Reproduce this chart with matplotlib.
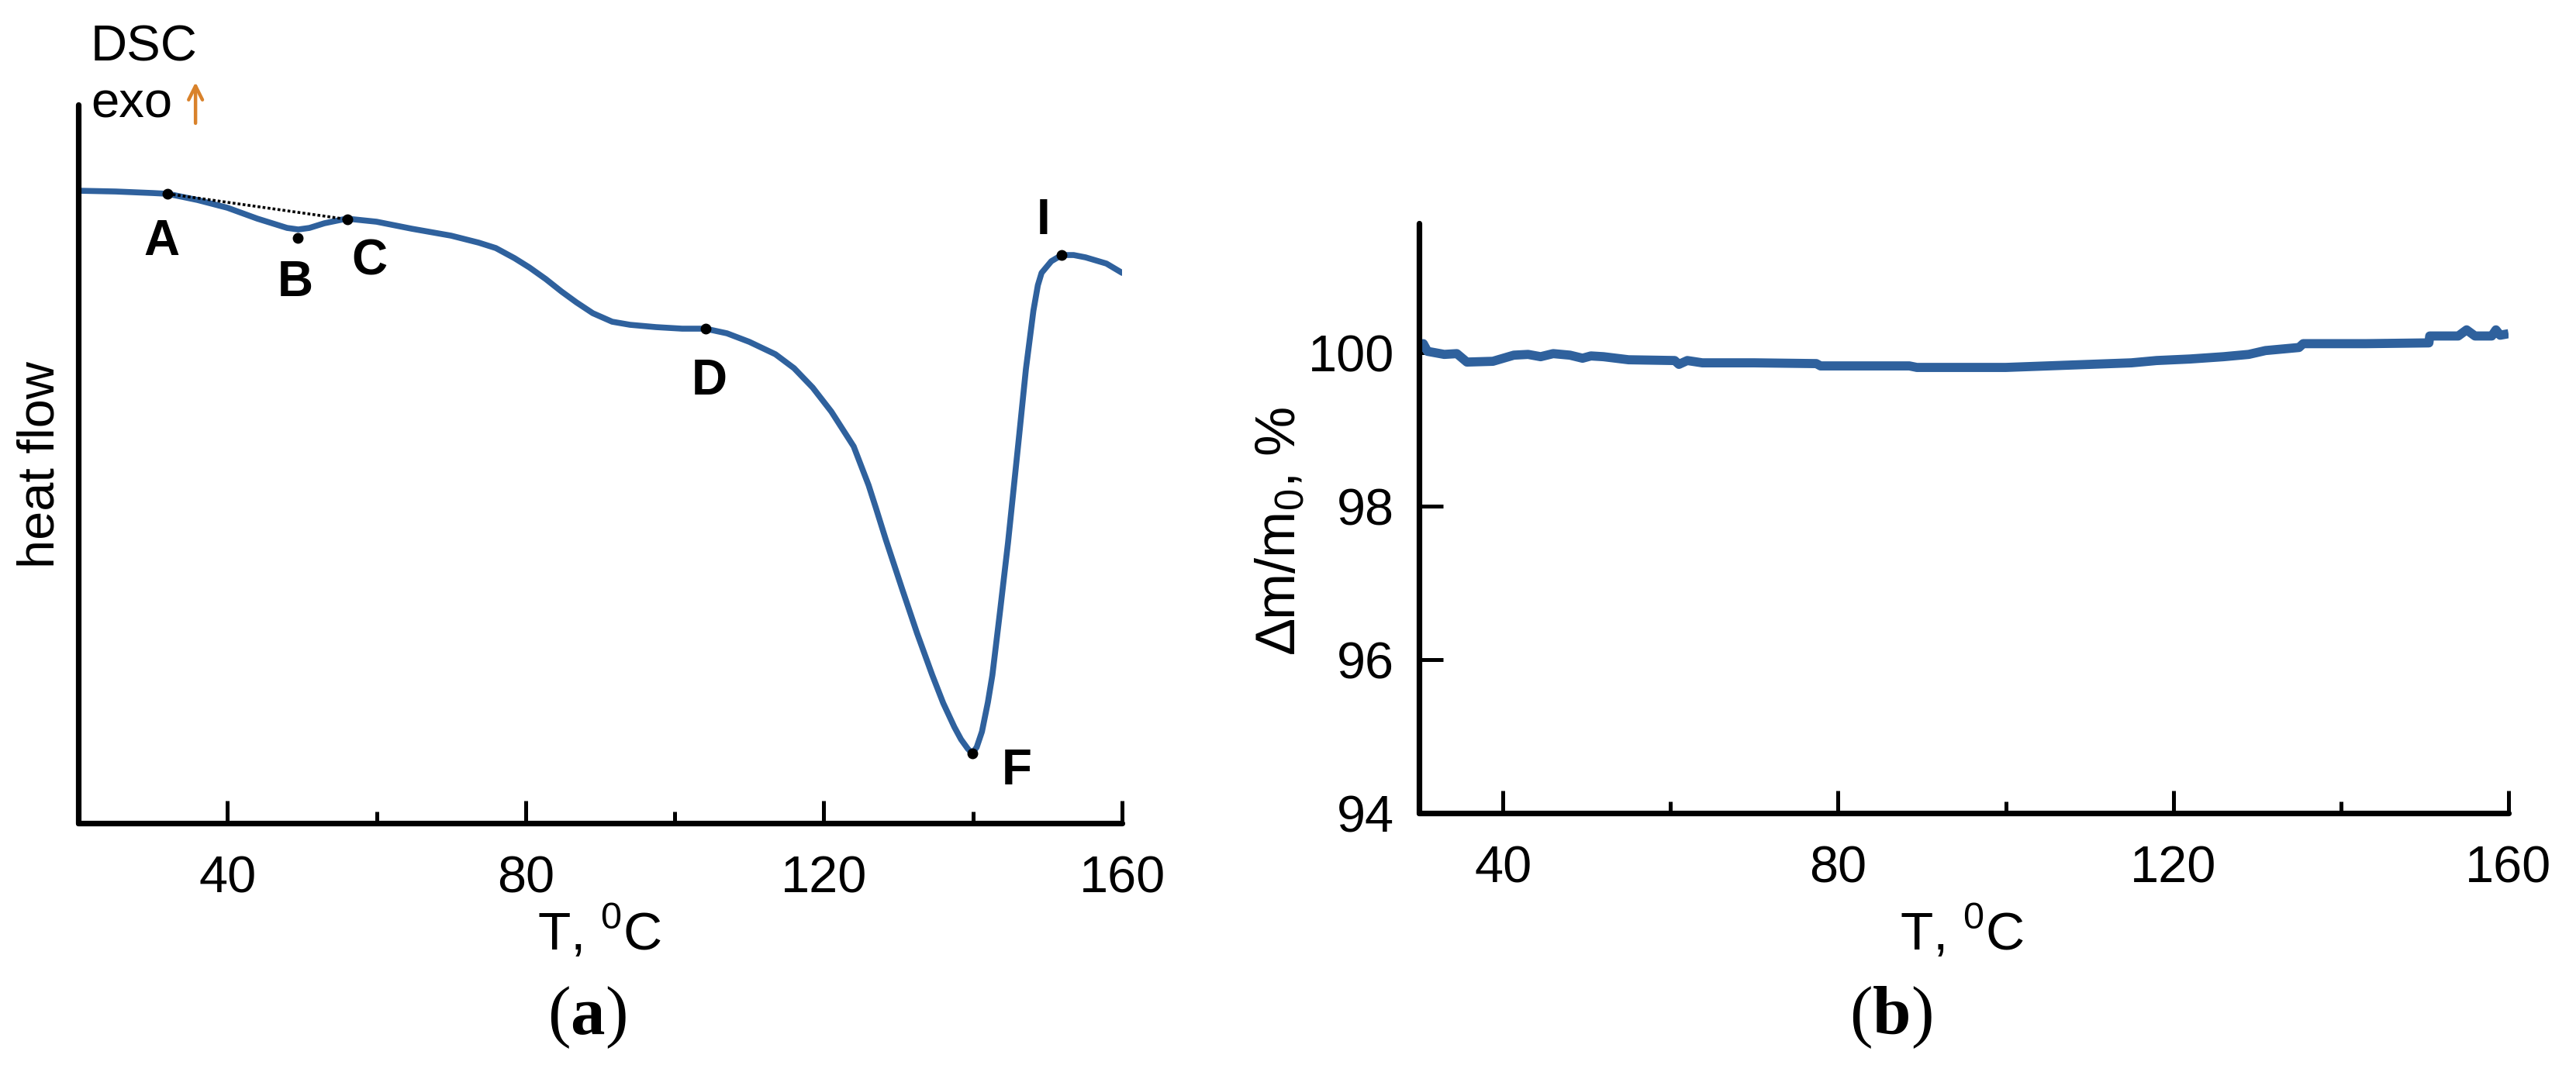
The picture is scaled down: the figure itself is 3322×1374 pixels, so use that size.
import matplotlib.pyplot as plt

plt.rcParams['font.family'] = ['Liberation Sans', 'DejaVu Sans']
plt.rcParams['mathtext.fontset'] = 'custom'
plt.rcParams['mathtext.rm'] = 'Liberation Sans'
plt.rcParams['mathtext.bf'] = 'Liberation Serif:bold'

# (a) DSC curve, heat flow in arbitrary units
dsc_t = [20, 25, 30, 32, 36, 40, 44, 48, 49.5, 51, 53, 56, 60, 64.7, 70, 73.7,
         76, 78.5, 80.5, 82.7, 84.8, 86.8, 89, 91.6, 94, 97.5, 101, 104.1, 107,
         110, 113.5, 116, 118.5, 121, 124, 125, 126, 127, 128.3, 130.5, 132.5,
         134.5, 136, 137.5, 138.4, 139.3, 139.9, 140.5, 141.2, 142, 142.6, 143.6,
         144.7, 145.5, 146.2, 147.1, 148.1, 148.7, 149.2, 150.5, 151.9, 153.5,
         155.1, 157.9, 160]
dsc_hf = [0.00, -0.01, -0.03, -0.04, -0.12, -0.22, -0.36, -0.48, -0.50, -0.48,
          -0.42, -0.36, -0.40, -0.49, -0.58, -0.67, -0.74, -0.87, -0.99, -1.14,
          -1.30, -1.44, -1.58, -1.69, -1.73, -1.76, -1.78, -1.78, -1.84, -1.95,
          -2.11, -2.29, -2.54, -2.85, -3.30, -3.55, -3.80, -4.10, -4.50, -5.14,
          -5.71, -6.24, -6.61, -6.92, -7.08, -7.20, -7.26, -7.18, -6.98, -6.60,
          -6.25, -5.45, -4.54, -3.80, -3.15, -2.30, -1.55, -1.22, -1.06, -0.91,
          -0.83, -0.83, -0.86, -0.94, -1.06]

# marked points A..I
pt_names = ['A', 'B', 'C', 'D', 'F', 'I']
pt_t = [32, 49.4, 56.1, 104.1, 139.9, 151.9]
pt_hf = [-0.04, -0.61, -0.37, -1.78, -7.26, -0.83]
lab_t = [31.2, 49.1, 59.0, 104.6, 145.9, 149.4]
lab_hf = [-0.66, -1.19, -0.91, -2.46, -7.49, -0.39]

# (b) TG curve
tg_t = [30, 30.5, 31, 33, 34.5, 35.7, 38.8, 41.3, 43, 44.5, 46, 48, 49.5, 50.5,
        52, 55, 60.5, 61, 62, 63.8, 70, 77.4, 77.9, 88.5, 89.4, 95.6, 100, 105,
        110, 115, 118, 122, 126, 129, 131, 135, 135.5, 143, 150.5, 150.6, 154,
        155, 156, 158, 158.5, 159, 160]
tg_m = [100.05, 100.12, 100.02, 99.98, 99.99, 99.88, 99.89, 99.97, 99.98, 99.95,
        99.99, 99.97, 99.93, 99.96, 99.95, 99.91, 99.90, 99.85, 99.90, 99.87,
        99.87, 99.86, 99.83, 99.83, 99.81, 99.81, 99.81, 99.83, 99.85, 99.87,
        99.90, 99.92, 99.95, 99.98, 100.03, 100.07, 100.12, 100.12, 100.13,
        100.22, 100.22, 100.30, 100.22, 100.22, 100.30, 100.23, 100.25]

blue = '#2f619d'
fig = plt.figure(figsize=(33.22, 13.74), dpi=100)

ax1 = fig.add_axes([0.0304, 0.2271, 0.4052, 0.6746])
ax1.plot(dsc_t, dsc_hf, color=blue, lw=5.5, solid_capstyle='round',
         solid_joinstyle='round', zorder=2)
ax1.plot([pt_t[0], pt_t[2]], [pt_hf[0], pt_hf[2]], color='k', lw=2.6,
         ls=(0, (1, 0.8)), zorder=3)
ax1.plot(pt_t, pt_hf, 'o', color='k', ms=9, zorder=4)
for name, tx, ty in zip(pt_names, lab_t, lab_hf):
    ax1.text(tx, ty, name, fontsize=46, fontweight='bold', ha='center', va='center')
ax1.set_xlim(20, 160)
ax1.set_ylim(-8.16, 1.11)
ax1.set_yticks([])

ax2 = fig.add_axes([0.5509, 0.2365, 0.4229, 0.5539])
ax2.plot(tg_t, tg_m, color=blue, lw=8.5, solid_capstyle='butt', zorder=2)
ax2.set_xlim(30, 160)
ax2.set_ylim(94, 101.69)
ax2.set_yticks([94, 96, 98, 100])
ax2.tick_params(axis='y', direction='in', length=22, width=3.6, labelsize=48, pad=23)

for ax in (ax1, ax2):
    for s in ('top', 'right'):
        ax.spines[s].set_visible(False)
    for s in ('left', 'bottom'):
        ax.spines[s].set_linewidth(5.2)
        ax.spines[s].set_capstyle('round')
    ax.set_xticks([40, 80, 120, 160])
    ax.set_xticks([60, 100, 140], minor=True)
    ax.tick_params(axis='x', which='major', direction='in', length=21, width=3.6,
                   labelsize=48, pad=30)
    ax.tick_params(axis='x', which='minor', direction='in', length=11, width=3.6)

# axis titles
fig.text(0.2327, 0.1245, 'T, $^0$C', fontsize=50, ha='center', va='center')
fig.text(0.7616, 0.1245, 'T, $^0$C', fontsize=50, ha='center', va='center')
fig.text(0.0157, 0.5633, 'heat flow', fontsize=48, rotation=90, ha='center', va='center')
fig.text(0.4968, 0.502, '∆m/m$_0$, %', fontsize=52, rotation=90, ha='center', va='center')

# DSC / exo label
fig.text(0.0352, 0.943, 'DSC', fontsize=47, ha='left', va='baseline')
fig.text(0.0352, 0.8894, 'exo', fontsize=47, ha='left', va='baseline')
ax1.annotate('', xy=(0.0759, 1 - 106 / 1374), xytext=(0.0759, 1 - 159 / 1374),
             xycoords='figure fraction', textcoords='figure fraction',
             arrowprops=dict(arrowstyle='->', color='#d9822b', lw=3.2,
                             mutation_scale=32, shrinkA=0, shrinkB=0))

# panel letters
fig.text(0.2279, 0.0444, '($\\mathbf{a}$)', fontsize=64, family='Liberation Serif',
         ha='center', va='center')
fig.text(0.7339, 0.0444, '($\\mathbf{b}$)', fontsize=64, family='Liberation Serif',
         ha='center', va='center')

fig.savefig('out.png', dpi=100)
